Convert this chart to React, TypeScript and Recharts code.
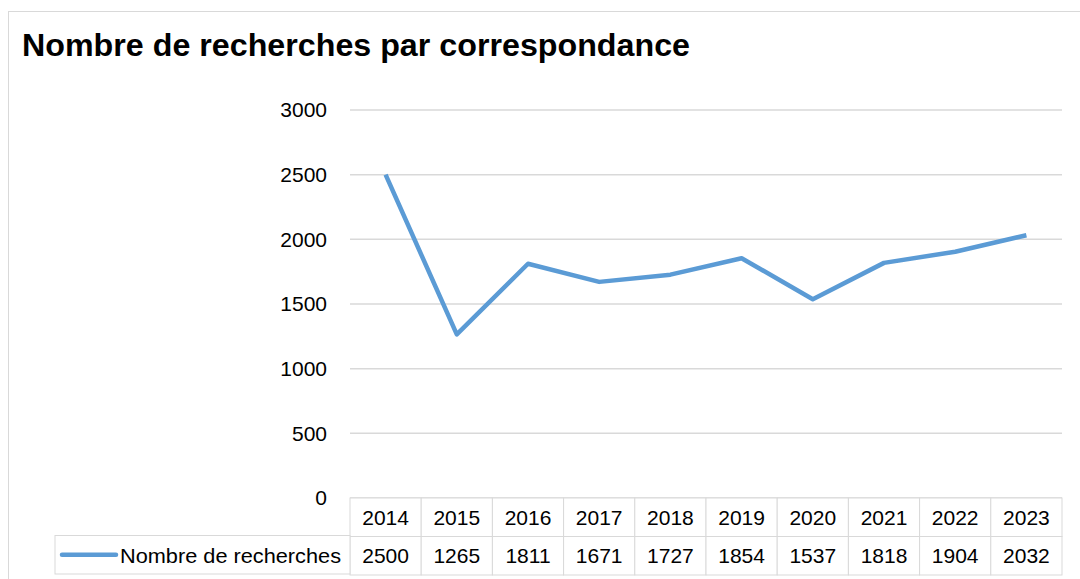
import { LineChart, Line, XAxis, YAxis, CartesianGrid } from "recharts";

const years = ["2014", "2015", "2016", "2017", "2018", "2019", "2020", "2021", "2022", "2023"];
const searches = [2500, 1265, 1811, 1671, 1727, 1854, 1537, 1818, 1904, 2032];
const yTicks = [0, 500, 1000, 1500, 2000, 2500, 3000];
const seriesName = "Nombre de recherches";
const title = "Nombre de recherches par correspondance";

const W = 1080;
const H = 579;
const PLOT_LEFT = 350;
const PLOT_RIGHT = 1062;
const PLOT_TOP = 110;
const PLOT_BOTTOM = 498;
const ROW_H = 38.5;
const CELL_W = (PLOT_RIGHT - PLOT_LEFT) / years.length;
const LINE_COLOR = "#5B9BD5";
const GRID = "#d9d9d9";
const FONT = "'Liberation Sans', Arial, sans-serif";

const data = years.map((year, i) => ({ year, value: searches[i] }));

function TableTick(props: any) {
  const { x, index } = props;
  const left = x - CELL_W / 2;
  const r1 = PLOT_BOTTOM;
  const r2 = PLOT_BOTTOM + ROW_H;
  return (
    <g>
      <rect x={left} y={r1} width={CELL_W} height={ROW_H} fill="#fff" stroke={GRID} />
      <rect x={left} y={r2} width={CELL_W} height={ROW_H} fill="#fff" stroke={GRID} />
      <text x={x} y={r1 + ROW_H / 2} dy="0.36em" textAnchor="middle" fontSize={21} fontFamily={FONT} fill="#000">
        {data[index].year}
      </text>
      <text x={x} y={r2 + ROW_H / 2} dy="0.36em" textAnchor="middle" fontSize={21} fontFamily={FONT} fill="#000">
        {data[index].value}
      </text>
      {index === 0 && (
        <g>
          <rect x={55} y={r2 - 1} width={PLOT_LEFT - 55} height={ROW_H} fill="#fff" stroke={GRID} />
          <line x1={62} x2={116} y1={r2 + ROW_H / 2 - 1} y2={r2 + ROW_H / 2 - 1} stroke={LINE_COLOR} strokeWidth={4.5} strokeLinecap="round" />
          <text x={120} y={r2 + ROW_H / 2} dy="0.36em" fontSize={21} fontFamily={FONT} fill="#000" textLength={221} lengthAdjust="spacingAndGlyphs">
            {seriesName}
          </text>
        </g>
      )}
    </g>
  );
}

export default function App() {
  return (
    <div style={{ position: "fixed", left: 0, top: 0, width: W, height: H, background: "#fff", overflow: "hidden" }}>
      <div
        style={{
          position: "absolute",
          left: 8,
          top: 11,
          width: W + 20,
          height: H + 20,
          border: "1px solid #d9d9d9",
          boxSizing: "border-box",
        }}
      />
      <svg style={{ position: "absolute", left: 0, top: 0 }} width={W} height={80}>
        <text x={22} y={56} fontSize={31} fontWeight="bold" fontFamily={FONT} textLength={668} lengthAdjust="spacingAndGlyphs" fill="#000">
          {title}
        </text>
      </svg>
      <div style={{ position: "absolute", left: 0, top: 0 }}>
        <LineChart
          width={W}
          height={H}
          data={data}
          margin={{ top: PLOT_TOP, right: W - PLOT_RIGHT, left: 0, bottom: 4 }}
        >
          <CartesianGrid horizontal vertical={false} stroke={GRID} strokeWidth={1.5} />
          <XAxis
            dataKey="year"
            height={H - PLOT_BOTTOM - 4}
            axisLine={false}
            tickLine={false}
            interval={0}
            padding={{ left: CELL_W / 2, right: CELL_W / 2 }}
            tick={<TableTick />}
          />
          <YAxis
            width={PLOT_LEFT}
            domain={[0, 3000]}
            ticks={yTicks}
            axisLine={false}
            tickLine={false}
            tickSize={0}
            tickMargin={23}
            tick={{ fontSize: 21, fontFamily: FONT, fill: "#000" }}
          />
          <Line
            type="linear"
            dataKey="value"
            stroke={LINE_COLOR}
            strokeWidth={4.5}
            strokeLinejoin="round"
            dot={false}
            isAnimationActive={false}
          />
        </LineChart>
      </div>
    </div>
  );
}
